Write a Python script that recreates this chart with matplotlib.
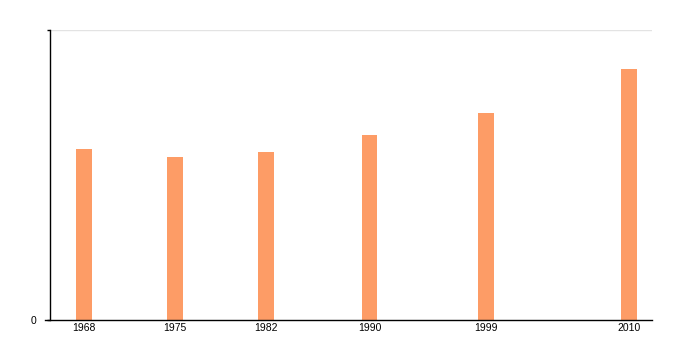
import matplotlib
matplotlib.use("Agg")
import matplotlib.pyplot as plt

# values (axis runs 0..100, top label not shown)
years = [1968, 1975, 1982, 1990, 1999, 2010]
values = [59.0, 56.2, 57.9, 63.8, 71.4, 86.6]
y_ticks = [0, 100]
y_tick_labels = ["0", ""]

plt.rcParams['font.family'] = ['Liberation Sans', 'DejaVu Sans']

fig = plt.figure(figsize=(7, 3.5), dpi=100)
ax = fig.add_axes([50 / 700, 30 / 350, 602 / 700, 290 / 350])

ax.bar(years, values, width=1.23, color="#fd9c66", zorder=2)

ax.set_xlim(1965.38, 2011.77)
ax.set_ylim(0, 100)
ax.set_xticks(years)
ax.set_xticklabels([str(y) for y in years], fontsize=7.5)
ax.set_yticks(y_ticks)
ax.set_yticklabels(y_tick_labels, fontsize=7.5)
ax.tick_params(axis='x', length=0, pad=2)
ax.tick_params(axis='y', length=2.5, width=1, pad=7)

ax.axhline(100, color="#e3e3e3", linewidth=1, zorder=1)

for side in ["top", "right"]:
    ax.spines[side].set_visible(False)
ax.spines["left"].set_linewidth(1)
ax.spines["bottom"].set_linewidth(1)
ax.spines["bottom"].set_bounds(1965.0, 2011.77)

fig.savefig("out.png", dpi=100)
